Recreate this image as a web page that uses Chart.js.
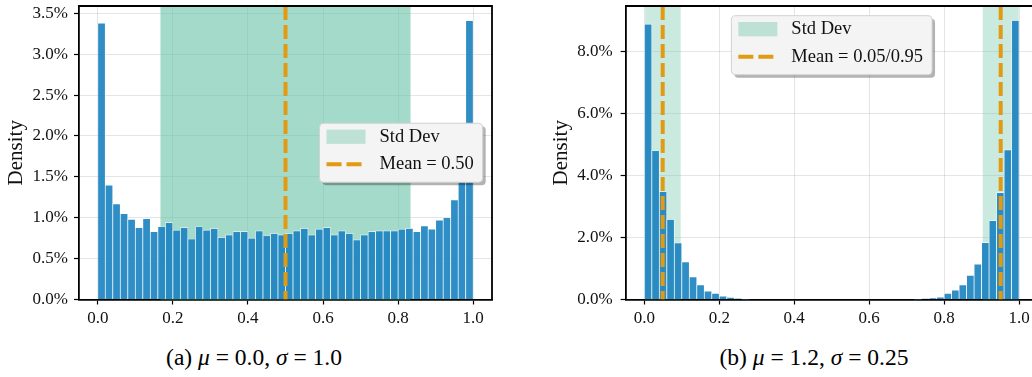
<!DOCTYPE html>
<html>
<head>
<meta charset="utf-8">
<script src="https://cdn.jsdelivr.net/npm/chart.js@4.4.1/dist/chart.umd.min.js"></script>
<style>
  html, body { margin: 0; padding: 0; background: #fff; overflow: hidden; width: 1032px; height: 377px; }
  canvas { position: absolute; top: 0; }
  #histA { left: 0; }
  #histB { left: 530px; }
  .caption { position: absolute; top: 344px; font-family: "Liberation Serif", serif; font-size: 23.5px; color: #000; white-space: nowrap; transform: translateX(-50%); }
</style>
</head>
<body>
<canvas id="histA" width="520" height="340"></canvas>
<canvas id="histB" width="520" height="340"></canvas>
<div class="caption" style="left:254px">(a) <i>μ</i> = 0.0, <i>σ</i> = 1.0</div>
<div class="caption" style="left:814px">(b) <i>μ</i> = 1.2, <i>σ</i> = 0.25</div>
<script>
// bins (centres), 50 bins of width 0.02
const binCenters = [0.01, 0.03, 0.05, 0.07, 0.09, 0.11, 0.13, 0.15, 0.17, 0.19,
                    0.21, 0.23, 0.25, 0.27, 0.29, 0.31, 0.33, 0.35, 0.37, 0.39,
                    0.41, 0.43, 0.45, 0.47, 0.49, 0.51, 0.53, 0.55, 0.57, 0.59,
                    0.61, 0.63, 0.65, 0.67, 0.69, 0.71, 0.73, 0.75, 0.77, 0.79,
                    0.81, 0.83, 0.85, 0.87, 0.89, 0.91, 0.93, 0.95, 0.97, 0.99];

// density in % - panel (a)
const densityA = [3.38, 1.40, 1.17, 1.05, 0.98, 0.88, 0.99, 0.83, 0.89, 0.94,
                  0.85, 0.88, 0.74, 0.89, 0.85, 0.87, 0.76, 0.79, 0.83, 0.83,
                  0.75, 0.84, 0.78, 0.81, 0.79, 0.81, 0.84, 0.87, 0.79, 0.86,
                  0.88, 0.79, 0.84, 0.81, 0.73, 0.79, 0.83, 0.84, 0.84, 0.84,
                  0.86, 0.87, 0.83, 0.90, 0.86, 0.97, 1.00, 1.22, 1.54, 3.41];

// density in % - panel (b)
const densityB = [8.87, 4.79, 3.47, 2.58, 1.82, 1.21, 0.73, 0.47, 0.27, 0.20,
                  0.11, 0.07, 0.03, 0.01, 0, 0, 0, 0, 0, 0,
                  0, 0, 0, 0, 0, 0, 0, 0, 0, 0,
                  0, 0, 0, 0, 0, 0, 0.01, 0.02, 0.04, 0.08,
                  0.20, 0.30, 0.47, 0.78, 1.14, 1.83, 2.54, 3.44, 4.82, 8.99];

const meanA = [0.50];
const stdSpanA = [[0.167, 0.833]];
const meanB = [0.049, 0.951];
const stdSpanB = [[0.002, 0.097], [0.903, 0.999]];

const legendA = ['Std Dev', 'Mean = 0.50'];
const legendB = ['Std Dev', 'Mean = 0.05/0.95'];

const xTicks = [0, 0.2, 0.4, 0.6, 0.8, 1.0];
const yTicksA = [0, 0.5, 1.0, 1.5, 2.0, 2.5, 3.0, 3.5];
const yTicksB = [0, 2, 4, 6, 8];
const yMaxA = 3.59;
const yMaxB = 9.45;

const SERIF = '"Liberation Serif", "Times New Roman", serif';
const BAR_COLOR = 'rgba(26,130,192,0.9)';
const MEAN_COLOR = '#e29a12';

function meanPoints(means, top) {
    const pts = [];
    means.forEach((m, i) => {
        if (i > 0) pts.push({x: m, y: null});
        pts.push({x: m, y: top});
        pts.push({x: m, y: 0});
    });
    return pts;
}

function roundRect(ctx, x, y, w, h, r) {
    ctx.beginPath();
    ctx.moveTo(x + r, y);
    ctx.arcTo(x + w, y, x + w, y + h, r);
    ctx.arcTo(x + w, y + h, x, y + h, r);
    ctx.arcTo(x, y + h, x, y, r);
    ctx.arcTo(x, y, x + w, y, r);
    ctx.closePath();
}

// span behind bars, frame and legend box on top
function extrasPlugin(spans, spanAlpha, labels, legendPos) {
    return {
        id: 'extras',
        beforeDatasetsDraw(chart) {
            const ctx = chart.ctx, ca = chart.chartArea, xs = chart.scales.x;
            ctx.save();
            ctx.fillStyle = 'rgba(102,194,165,' + spanAlpha + ')';
            spans.forEach(s => {
                const x0 = xs.getPixelForValue(s[0]);
                const x1 = xs.getPixelForValue(s[1]);
                ctx.fillRect(x0, ca.top, x1 - x0, ca.bottom - ca.top);
            });
            ctx.restore();
        },
        afterDatasetsDraw(chart) {
            const ctx = chart.ctx, ca = chart.chartArea;
            ctx.save();
            // top + right spines
            ctx.strokeStyle = '#000';
            ctx.lineWidth = 1.8;
            ctx.beginPath();
            ctx.moveTo(ca.left, ca.top);
            ctx.lineTo(ca.right, ca.top);
            ctx.lineTo(ca.right, ca.bottom);
            ctx.stroke();

            // legend
            ctx.font = '18.5px ' + SERIF;
            const textW = Math.max(...labels.map(l => ctx.measureText(l).width));
            const boxW = 60 + textW + 9;
            const boxH = 59;
            let bx, by;
            if (legendPos === 'center right') {
                bx = ca.right - 9.3 - boxW;
                by = (ca.top + ca.bottom) / 2 - boxH / 2;
            } else {
                bx = (ca.left + ca.right) / 2 - boxW / 2;
                by = ca.top + 9.7;
            }
            ctx.fillStyle = 'rgba(0,0,0,0.3)';
            roundRect(ctx, bx + 3, by + 3, boxW, boxH, 4);
            ctx.fill();
            ctx.fillStyle = '#f4f4f4';
            ctx.strokeStyle = '#d2d2d2';
            ctx.lineWidth = 1;
            roundRect(ctx, bx, by, boxW, boxH, 4);
            ctx.fill();
            ctx.stroke();

            ctx.fillStyle = 'rgba(102,194,165,0.38)';
            ctx.fillRect(bx + 7, by + 6.3, 39, 14.3);
            ctx.strokeStyle = MEAN_COLOR;
            ctx.lineWidth = 4;
            ctx.setLineDash([15, 5]);
            ctx.beginPath();
            ctx.moveTo(bx + 7, by + 41);
            ctx.lineTo(bx + 46, by + 41);
            ctx.stroke();
            ctx.setLineDash([]);

            ctx.fillStyle = '#111';
            ctx.textBaseline = 'middle';
            ctx.textAlign = 'left';
            ctx.fillText(labels[0], bx + 60, by + 13.5);
            ctx.fillText(labels[1], bx + 60, by + 41);
            ctx.restore();
        }
    };
}

function makeHist(id, values, means, spans, spanAlpha, labels, legendPos, yTicks, yMax, yWidth, rightPad, titlePad, tickPad) {
    return new Chart(document.getElementById(id), {
        type: 'bar',
        data: {
            datasets: [{
                type: 'line',
                label: labels[1],
                data: meanPoints(means, yMax),
                borderColor: MEAN_COLOR,
                borderWidth: 4,
                borderDash: [14, 5],
                borderCapStyle: 'butt',
                pointRadius: 0,
                spanGaps: false,
                order: 0
            }, {
                type: 'bar',
                label: 'density',
                data: binCenters.map((c, i) => ({x: c, y: values[i]})),
                backgroundColor: BAR_COLOR,
                borderColor: 'rgba(255,255,255,0.9)',
                borderWidth: 0.7,
                barPercentage: 1,
                categoryPercentage: 1,
                order: 1
            }]
        },
        options: {
            responsive: false,
            animation: false,
            events: [],
            layout: { autoPadding: false, padding: { left: 0, right: rightPad, top: 6, bottom: 0 } },
            plugins: { legend: { display: false }, tooltip: { enabled: false } },
            scales: {
                x: {
                    type: 'linear',
                    min: -0.05,
                    max: 1.05,
                    offset: false,
                    afterBuildTicks: s => { s.ticks = xTicks.map(v => ({value: v})); },
                    afterFit: s => { s.height = 40.5; s.paddingLeft = 0; s.paddingRight = 0; },
                    grid: { offset: false, color: 'rgba(0,0,0,0.1)', lineWidth: 1, tickLength: 5, tickColor: '#000', tickWidth: 1.2 },
                    border: { display: true, color: '#000', width: 1.8 },
                    ticks: { color: '#111', padding: 4, maxRotation: 0, font: { family: SERIF, size: 17 },
                             callback: v => v.toFixed(1) }
                },
                y: {
                    min: 0,
                    max: yMax,
                    afterBuildTicks: s => { s.ticks = yTicks.map(v => ({value: v})); },
                    afterFit: s => { s.width = yWidth; s.paddingTop = 0; s.paddingBottom = 0; },
                    grid: { color: 'rgba(0,0,0,0.1)', lineWidth: 1, tickLength: 5, tickColor: '#000', tickWidth: 1.2 },
                    border: { display: true, color: '#000', width: 1.8 },
                    title: { display: true, text: 'Density', color: '#111', font: { family: SERIF, size: 21 }, padding: { top: titlePad, bottom: 0 } },
                    ticks: { color: '#111', padding: tickPad, font: { family: SERIF, size: 17 },
                             callback: v => v.toFixed(1) + '%' }
                }
            }
        },
        plugins: [extrasPlugin(spans, spanAlpha, labels, legendPos)]
    });
}

makeHist('histA', densityA, meanA, stdSpanA, 0.6, legendA, 'center right', yTicksA, yMaxA, 79, 28, 3.4, 6);
makeHist('histB', densityB, meanB, stdSpanB, 0.35, legendB, 'upper center', yTicksB, yMaxB, 95.6, 12.2, 19, 8);
</script>
</body>
</html>
